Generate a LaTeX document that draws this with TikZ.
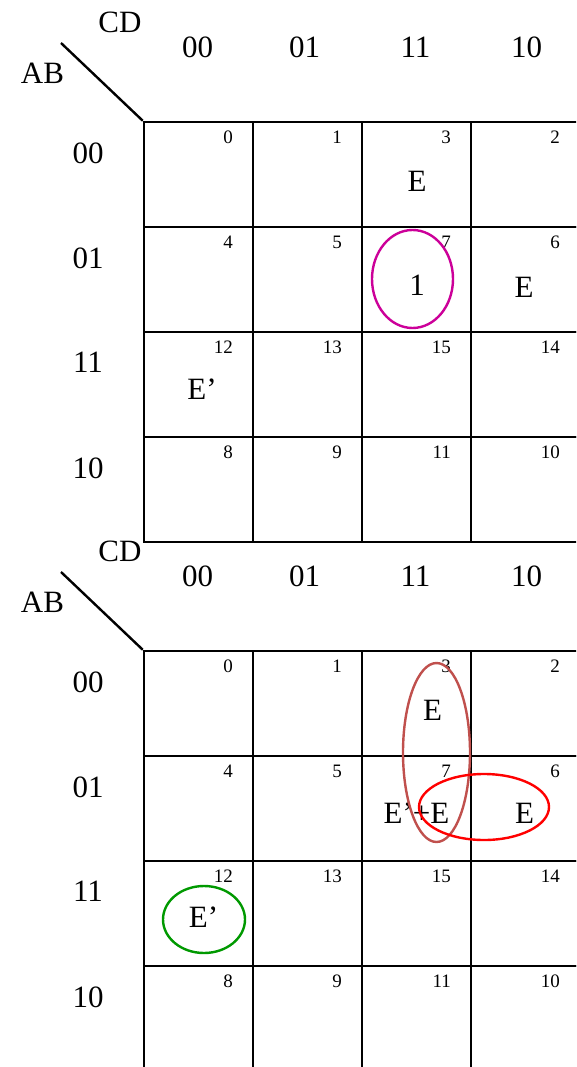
\documentclass[tikz,border=0pt]{standalone}
\usepackage{fontspec}
\setmainfont{Liberation Serif}
\definecolor{loopmag}{RGB}{204,0,153}
\definecolor{loopbrown}{RGB}{192,80,77}
\definecolor{loopred}{RGB}{255,0,0}
\definecolor{loopgreen}{RGB}{0,153,0}
\begin{document}
\begin{tikzpicture}[x=1pt,y=-1pt,
  big/.style={font=\fontsize{31}{36}\selectfont, inner sep=0pt},
  num/.style={font=\fontsize{19}{22}\selectfont, inner sep=0pt, anchor=east},
  cell/.style={draw, line width=2.5pt, minimum width=109pt, minimum height=105pt, inner sep=0pt},
  gridline/.style={line width=2.4pt},
  loop/.style={line width=2.4pt}]
\useasboundingbox (0,0) rectangle (576,1067);
\clip (0,0) rectangle (576,1067);
\fill[white] (0,0) rectangle (576,1067);
\foreach \o/\p in {0/t,529/b}{
  % cells
  \foreach \n/\c/\r in {0/0/0,1/1/0,3/2/0,2/3/0,4/0/1,5/1/1,7/2/1,6/3/1,12/0/2,13/1/2,15/2/2,14/3/2,8/0/3,9/1/3,11/2/3,10/3/3}{
    \node[cell] (\p c\n) at ({198.5+109*\c},{174.5+\o+105*\r}) {};
    \node[num] (\p n\n) at ({144+109*\c+89},{122+\o+105*\r+15}) {\n};
  }
  % corner labels
  \node[big] (\p CD) at (120,{22+\o}) {CD};
  \node[big] (\p AB) at (42.5,{73+\o}) {AB};
  \coordinate (\p d) at (61,{43+\o});
  \draw[gridline] (\p d) -- (\p c0.north west);
  % column labels
  \node[big] (\p k0) at (197.5,{47.5+\o}) {00};
  \node[big] (\p k1) at (304.5,{47.5+\o}) {01};
  \node[big] (\p k2) at (415.5,{47.5+\o}) {11};
  \node[big] (\p k3) at (526.5,{47.5+\o}) {10};
  % row labels
  \node[big] (\p r0) at (88,{153+\o}) {00};
  \node[big] (\p r1) at (88,{258+\o}) {01};
  \node[big] (\p r2) at (88,{362.5+\o}) {11};
  \node[big] (\p r3) at (88,{468+\o}) {10};
}
% top map entries
\node[big] (tv3) at (417,181.5) {E};
\node[big] (tv7) at (417,285.5) {1};
\node[big] (tv6) at (524,287) {E};
\node[big] (tv12) at (202,389) {E’};
% bottom map entries
\node[big] (bv3) at (432.5,710) {E};
\node[big] (bv7) at (416.5,813.5) {E’+E};
\node[big] (bv6) at (524.5,813.5) {E};
\node[big] (bv12) at (203.5,917.5) {E’};
% loops
\draw[loop, loopmag] (412.5,279) ellipse [x radius=40.5, y radius=49];
\draw[loop, loopbrown] (436.5,752.5) ellipse [x radius=33.5, y radius=89.5];
\draw[loop, loopred] (484,807) ellipse [x radius=65, y radius=33];
\draw[loop, loopgreen] (204,919.5) ellipse [x radius=41, y radius=33.5];
\end{tikzpicture}
\end{document}
